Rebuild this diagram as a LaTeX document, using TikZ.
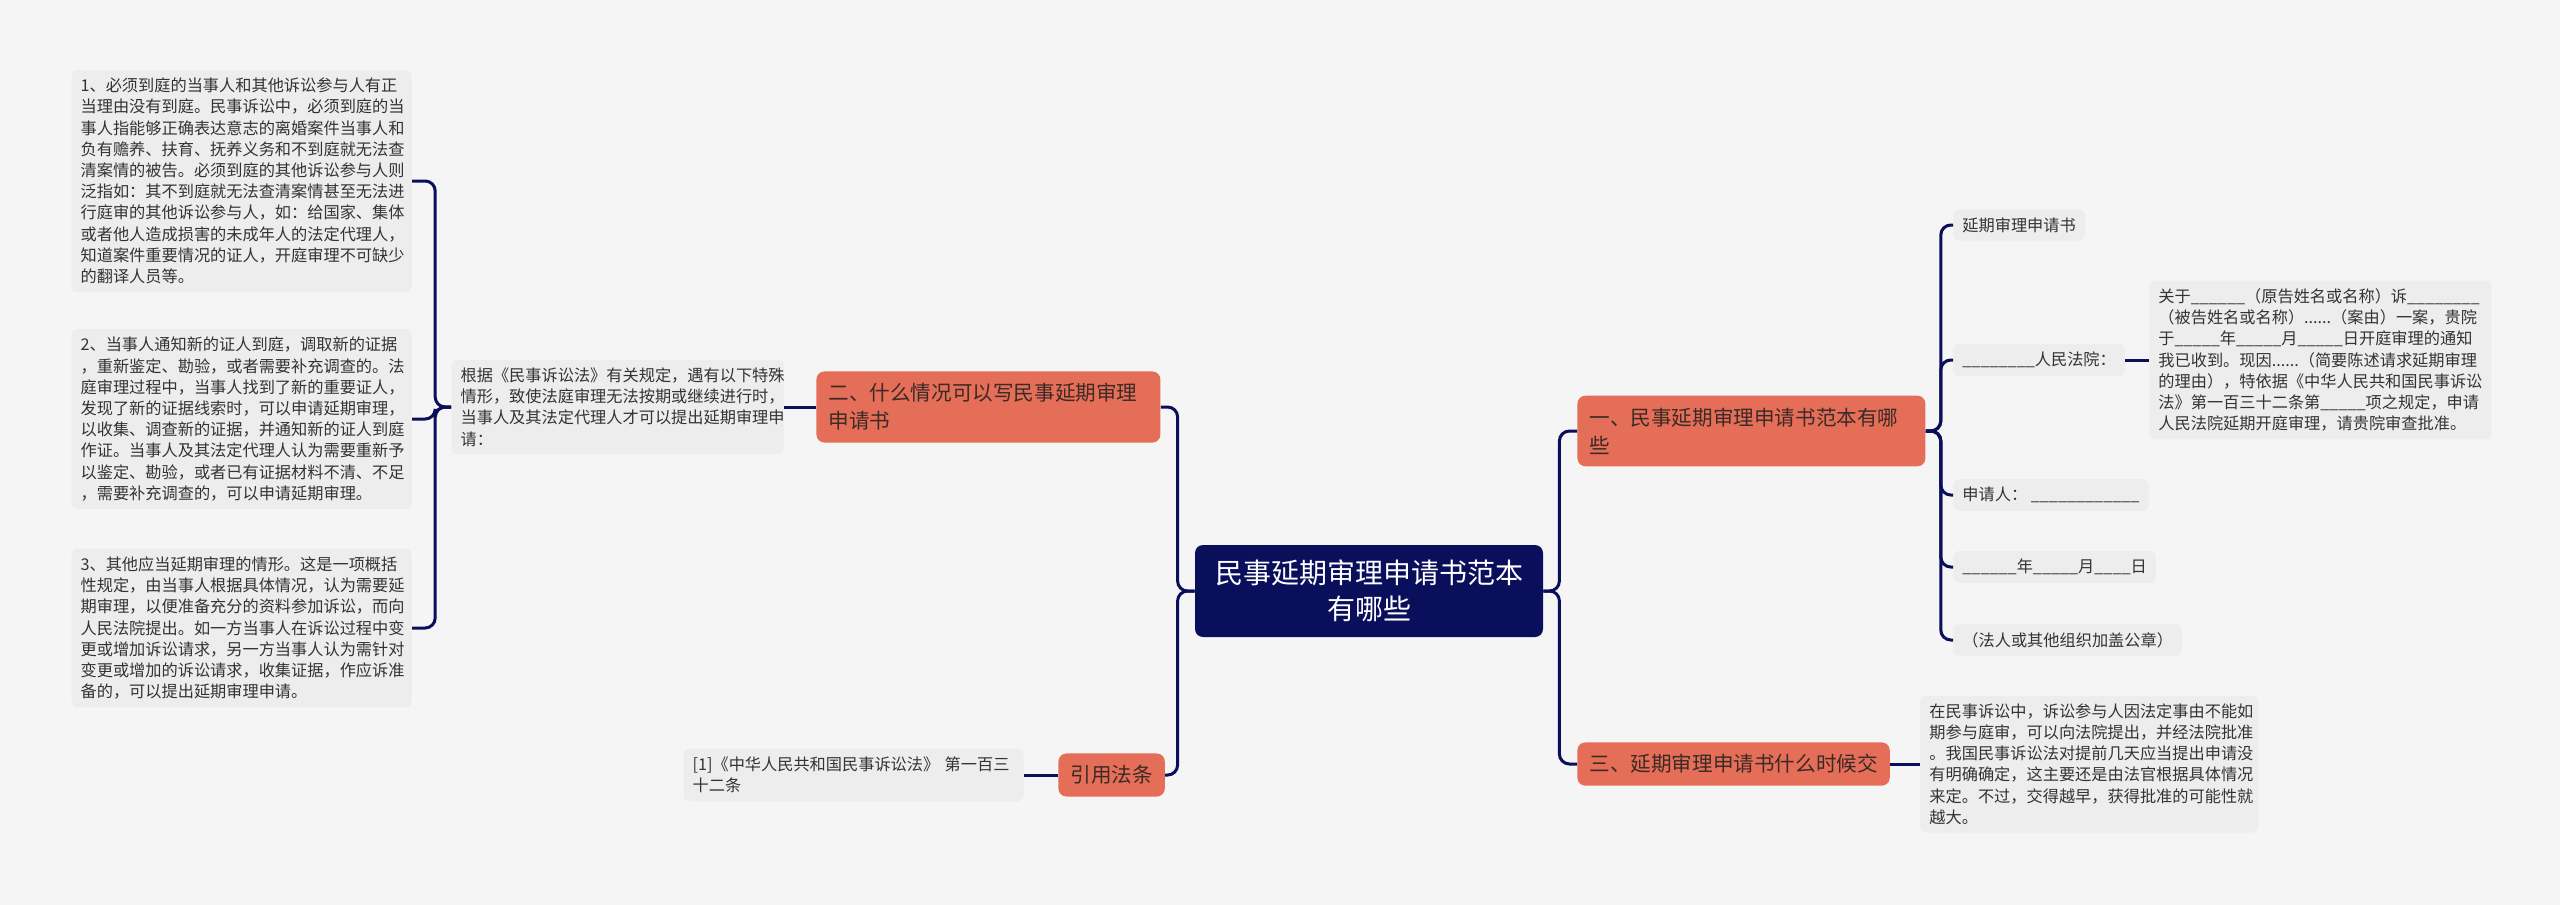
\documentclass[tikz,border=0pt]{standalone}
\usepackage{fontspec}
\setmainfont{Noto Sans CJK SC}
\definecolor{paper}{HTML}{F5F5F5}
\definecolor{leafgray}{HTML}{EDEDED}
\definecolor{navy}{HTML}{0A0F5C}
\definecolor{topicred}{HTML}{E56E58}
\definecolor{topictext}{HTML}{3B2A26}
\definecolor{leaftext}{HTML}{333333}
\newcommand{\fillin}[1]{\foreach \k in {1,...,#1}{\_}}

\tikzset{
  root/.style = {fill=navy, text=white, rounded corners=4pt, align=center,
    inner xsep=10pt, inner ysep=7.5pt, font=\fontsize{14}{18}\selectfont},
  topic/.style = {fill=topicred, text=topictext, rounded corners=4pt, align=left,
    inner xsep=6pt, inner ysep=6pt, font=\fontsize{10.3}{14}\selectfont},
  leaf/.style = {fill=leafgray, text=leaftext, rounded corners=3pt, align=left,
    inner xsep=4.5pt, inner ysep=4pt, font=\fontsize{8.1}{10.6}\selectfont},
  link/.style = {draw=navy, line width=1.5pt, rounded corners=5pt}
}

\begin{document}
\begin{tikzpicture}[x=0.5pt, y=-0.5pt]
\fill[paper] (0,0) rectangle (2560,905);
\useasboundingbox (0,0) rectangle (2560,905);

% centre and main topics
\node[root] (root) at (1369, 591){民事延期审理申请书范本\\有哪些};
\node[topic, anchor=west, text width=162pt] (b1) at (1577, 431){一、民事延期审理申请书范本有哪\\些};
\node[topic, anchor=west, text width=160pt] (b2) at (816, 407){二、什么情况可以写民事延期审理\\申请书};
\node[topic, anchor=west] (b3) at (1577, 764){三、延期审理申请书什么时候交};
\node[topic, anchor=west] (b4) at (1058, 775){引用法条};

% right side, template
\node[leaf, anchor=west] (r1) at (1953, 225){延期审理申请书};
\node[leaf, anchor=west] (r2) at (1953, 360){\fillin{8}人民法院：};
\node[leaf, anchor=west, text width=162pt] (r3) at (2149, 360){关于\fillin{6}（原告姓名或名称）诉\fillin{8}\\
（被告姓名或名称）......（案由）一案，贵院\\
于\fillin{5}年\fillin{5}月\fillin{5}日开庭审理的通知\\
我已收到。现因......（简要陈述请求延期审理\\
的理由），特依据《中华人民共和国民事诉讼\\
法》第一百三十二条第\fillin{5}项之规定，申请\\
人民法院延期开庭审理，请贵院审查批准。};
\node[leaf, anchor=west] (r4) at (1953, 495){申请人： \fillin{12}};
\node[leaf, anchor=west] (r5) at (1953, 567){\fillin{6}年\fillin{5}月\fillin{4}日};
\node[leaf, anchor=west] (r6) at (1953, 640){（法人或其他组织加盖公章）};

% right side, when to hand in
\node[leaf, anchor=west, text width=160pt] (b3t) at (1920, 764){在民事诉讼中，诉讼参与人因法定事由不能如\\
期参与庭审，可以向法院提出，并经法院批准\\
。我国民事诉讼法对提前几天应当提出申请没\\
有明确确定，这主要还是由法官根据具体情况\\
来定。不过，交得越早，获得批准的可能性就\\
越大。};

% left side
\node[leaf, anchor=east, text width=157pt] (b2t) at (784, 407){根据《民事诉讼法》有关规定，遇有以下特殊\\
情形，致使法庭审理无法按期或继续进行时，\\
当事人及其法定代理人才可以提出延期审理申\\
请：};
\node[leaf, anchor=east, text width=161pt] (l1) at (412, 181){1、必须到庭的当事人和其他诉讼参与人有正\\
当理由没有到庭。民事诉讼中，必须到庭的当\\
事人指能够正确表达意志的离婚案件当事人和\\
负有赡养、扶育、抚养义务和不到庭就无法查\\
清案情的被告。必须到庭的其他诉讼参与人则\\
泛指如：其不到庭就无法查清案情甚至无法进\\
行庭审的其他诉讼参与人，如：给国家、集体\\
或者他人造成损害的未成年人的法定代理人，\\
知道案件重要情况的证人，开庭审理不可缺少\\
的翻译人员等。};
\node[leaf, anchor=east, text width=161pt] (l2) at (412, 419){2、当事人通知新的证人到庭，调取新的证据\\
，重新鉴定、勘验，或者需要补充调查的。法\\
庭审理过程中，当事人找到了新的重要证人，\\
发现了新的证据线索时，可以申请延期审理，\\
以收集、调查新的证据，并通知新的证人到庭\\
作证。当事人及其法定代理人认为需要重新予\\
以鉴定、勘验，或者已有证据材料不清、不足\\
，需要补充调查的，可以申请延期审理。};
\node[leaf, anchor=east, text width=161pt] (l3) at (412, 628){3、其他应当延期审理的情形。这是一项概括\\
性规定，由当事人根据具体情况，认为需要延\\
期审理，以便准备充分的资料参加诉讼，而向\\
人民法院提出。如一方当事人在诉讼过程中变\\
更或增加诉讼请求，另一方当事人认为需针对\\
变更或增加的诉讼请求，收集证据，作应诉准\\
备的，可以提出延期审理申请。};
\node[leaf, anchor=east, text width=161pt] (cite) at (1024, 775){[1]《中华人民共和国民事诉讼法》~第一百三\\
十二条};

% connectors
\draw[link] (root.west) -- ++(-17,0) |- (b2.east);
\draw[link] (root.west) -- ++(-17,0) |- (b4.east);
\draw[link] (root.east) -- ++(16,0) |- (b1.west);
\draw[link] (root.east) -- ++(16,0) |- (b3.west);
\foreach \r in {r1,r2,r4,r5,r6}
  \draw[link] (b1.east) -- ++(15,0) |- (\r.west);
\draw[link] (r2.east) -- (r3.west);
\draw[link] (b3.east) -- (b3t.west);
\draw[link] (b2.west) -- (b2t.east);
\foreach \l in {l1,l2,l3}
  \draw[link] (b2t.west) -- ++(-16,0) |- (\l.east);
\draw[link] (b4.west) -- (cite.east);
\end{tikzpicture}
\end{document}
